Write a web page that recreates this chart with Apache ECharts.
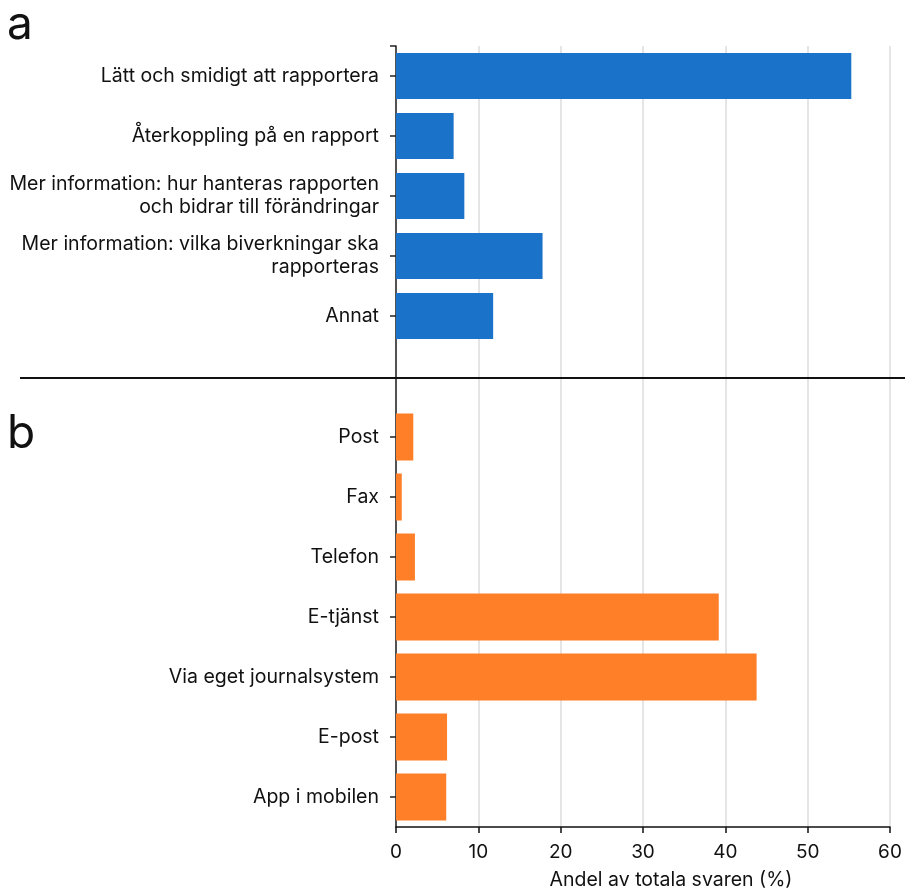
<!DOCTYPE html>
<html><head><meta charset="utf-8">
<script src="https://cdn.jsdelivr.net/npm/echarts@6/dist/echarts.min.js"></script>
<style>html,body{margin:0;padding:0;background:#fff}#c{width:910px;height:892px}</style>
</head><body><div id="c"></div>
<script>
const catsA = ['Lätt och smidigt att rapportera','Återkoppling på en rapport','Mer information: hur hanteras rapporten\noch bidrar till förändringar','Mer information: vilka biverkningar ska\nrapporteras','Annat'];
const valsA = [55.3, 7.0, 8.3, 17.8, 11.8];
const catsB = ['Post','Fax','Telefon','E-tjänst','Via eget journalsystem','E-post','App i mobilen'];
const valsB = [2.1, 0.7, 2.3, 39.2, 43.8, 6.2, 6.1];
const xTicks = [0,10,20,30,40,50,60];
const xName = 'Andel av totala svaren (%)';

const FONT = 'Inter, "Noto Sans", sans-serif';
const chart = echarts.init(document.getElementById('c'), null, {renderer:'canvas'});
const L = 396, R = 20;
const hiddenX = (gi)=>({type:'value', gridIndex:gi, min:0, max:60, interval:10, show:false});
const catY = (gi, data)=>({
  type:'category', gridIndex:gi, data:data, inverse:true,
  axisLine:{show:false},
  axisTick:{show:true, alignWithLabel:true, length:6, lineStyle:{color:'#222', width:1.5}},
  axisLabel:{fontFamily:FONT, fontSize:19.5, color:'#111', margin:17, lineHeight:23, align:'right'},
  splitLine:{show:false}
});
const gridBase = {left:L, right:R, containLabel:false, outerBoundsMode:'none'};
chart.setOption({
  animation:false,
  textStyle:{fontFamily:FONT},
  grid:[
    Object.assign({top:46, bottom:65}, gridBase),
    Object.assign({top:46, height:300}, gridBase),
    Object.assign({top:407, height:420}, gridBase)
  ],
  xAxis:[
    {type:'value', gridIndex:0, min:0, max:60, interval:10,
     axisLine:{show:true, lineStyle:{color:'#111', width:1.5}},
     axisTick:{show:true, length:6, lineStyle:{color:'#111', width:1.5}},
     axisLabel:{fontFamily:FONT, fontSize:19, color:'#111', margin:16,
       formatter:(v)=> xTicks.includes(v) ? String(v) : ''},
     splitLine:{show:true, lineStyle:{color:'#dcdcdc', width:1.5}},
     name:xName, nameLocation:'middle', nameGap:43,
     nameTextStyle:{fontFamily:FONT, fontSize:19.5, color:'#111', padding:[0,0,0,56]}},
    hiddenX(1), hiddenX(2)
  ],
  yAxis:[
    {type:'value', gridIndex:0, min:0, max:1, axisLabel:{show:false}, axisTick:{show:false},
     splitLine:{show:false}, axisLine:{show:true, lineStyle:{color:'#222', width:1.5}}},
    catY(1, catsA), catY(2, catsB)
  ],
  series:[
    {type:'bar', xAxisIndex:1, yAxisIndex:1, data:valsA, barWidth:46,
     itemStyle:{color:'#1a73c8'}},
    {type:'bar', xAxisIndex:2, yAxisIndex:2, data:valsB, barWidth:47,
     itemStyle:{color:'#fe7f27'}}
  ],
  graphic:[
    {type:'line', shape:{x1:20, y1:378, x2:905, y2:378}, style:{stroke:'#111', lineWidth:2}, z:100},
    {type:'line', shape:{x1:390, y1:46, x2:396, y2:46}, style:{stroke:'#222', lineWidth:1.5}, z:100},
    {type:'text', left:7, top:2, style:{text:'a', font:'46px '+FONT, fill:'#111'}},
    {type:'text', left:7, top:411, style:{text:'b', font:'46px '+FONT, fill:'#111'}}
  ]
});
</script></body></html>
